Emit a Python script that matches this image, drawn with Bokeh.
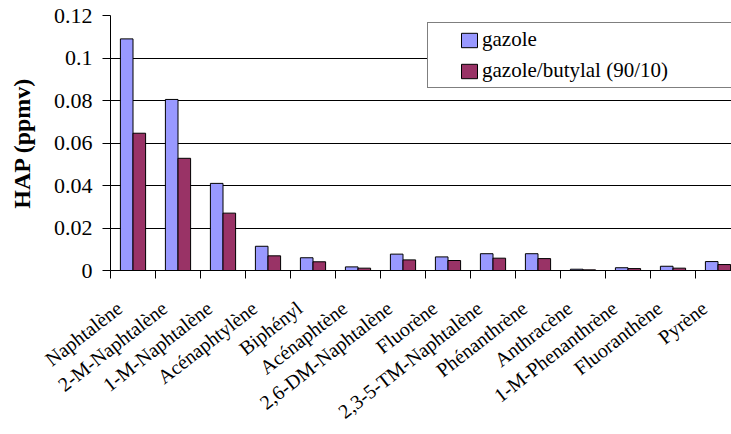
import numpy as np
from bokeh.plotting import figure
from bokeh.models import Range1d, FixedTicker, NumeralTickFormatter, Legend, LegendItem
from bokeh.embed import file_html
from bokeh.resources import INLINE

categories = ["Naphtalène", "2-M-Naphtalène", "1-M-Naphtalène", "Acénaphtylène",
              "Biphényl", "Acénaphtène", "2,6-DM-Naphtalène", "Fluorène",
              "2,3-5-TM-Naphtalène", "Phénanthrène", "Anthracène",
              "1-M-Phenanthrène", "Fluoranthène", "Pyrène"]
gazole = [0.109, 0.0805, 0.041, 0.0114, 0.0060, 0.0017, 0.0077, 0.0064,
          0.0079, 0.0079, 0.0006, 0.0013, 0.0020, 0.0042]
gazole_butylal = [0.0646, 0.0528, 0.027, 0.0069, 0.0041, 0.0011, 0.0050, 0.0047,
                  0.0058, 0.0056, 0.0003, 0.0009, 0.0011, 0.0028]
y_ticks = [0, 0.02, 0.04, 0.06, 0.08, 0.10, 0.12]
series_names = ["gazole", "gazole/butylal (90/10)"]

FONT = "'Liberation Serif', 'Times New Roman', serif"

centers = np.arange(len(categories)) + 0.5
bounds = list(range(len(categories) + 1))
label_pos = [round(c - 0.3, 2) for c in centers]

p = figure(frame_width=621, frame_height=255,
           x_range=Range1d(0, 13.8), y_range=Range1d(0, 0.12),
           output_backend="svg", toolbar_location=None,
           min_border_left=110, min_border_right=0, min_border_top=15,
           min_border_bottom=10)
p.outline_line_color = None
p.background_fill_color = "white"

r1 = p.vbar(x=centers - 0.14, top=gazole, width=0.28,
            fill_color="#9999FF", line_color="black", line_width=1)
r2 = p.vbar(x=centers + 0.14, top=gazole_butylal, width=0.28,
            fill_color="#993366", line_color="black", line_width=1)

# y axis
yt = FixedTicker(ticks=y_ticks)
p.yaxis.ticker = yt
p.yaxis.formatter = NumeralTickFormatter(format="0.[00]")
p.yaxis.major_tick_out = 8
p.yaxis.major_tick_in = 0
p.yaxis.minor_tick_out = 0
p.yaxis.minor_tick_in = 0
p.yaxis.major_label_standoff = 10
p.yaxis.major_label_text_font = FONT
p.yaxis.major_label_text_font_size = "22px"
p.yaxis.major_label_text_color = "black"
p.yaxis.axis_line_color = "black"
p.yaxis.major_tick_line_color = "black"
p.yaxis.axis_label = "HAP (ppmv)"
p.yaxis.axis_label_text_font = FONT
p.yaxis.axis_label_text_font_style = "bold"
p.yaxis.axis_label_text_font_size = "24px"
p.yaxis.axis_label_text_color = "black"
p.yaxis.axis_label_standoff = 16
p.ygrid.ticker = yt
p.ygrid.grid_line_color = "black"
p.ygrid.grid_line_width = 1
p.xgrid.visible = False

# x axis: labels near category centers, tick marks at category boundaries
xt = FixedTicker(ticks=label_pos, minor_ticks=bounds)
p.xaxis.ticker = xt
p.xaxis.major_label_overrides = {float(c): n for c, n in zip(label_pos, categories)}
p.xaxis.major_tick_out = 0
p.xaxis.major_tick_in = 0
p.xaxis.minor_tick_out = 8
p.xaxis.minor_tick_in = 0
p.xaxis.minor_tick_line_color = "black"
p.xaxis.axis_line_color = "black"
p.xaxis.major_label_orientation = np.deg2rad(38)
p.xaxis.major_label_standoff = 27
p.xaxis.major_label_text_font = FONT
p.xaxis.major_label_text_font_size = "20px"
p.xaxis.major_label_text_color = "black"

legend = Legend(items=[LegendItem(label=series_names[0], renderers=[r1]),
                       LegendItem(label=series_names[1], renderers=[r2])],
                location=(317, 182), margin=0, padding=4, spacing=6,
                glyph_width=20, glyph_height=18, label_height=20,
                label_width=245, label_standoff=3,
                title="\u00a0", title_location="left", title_standoff=26,
                title_text_font_size="1px",
                label_text_font=FONT, label_text_font_size="21px",
                label_text_color="black",
                border_line_color="black", border_line_width=1,
                background_fill_color="white", background_fill_alpha=1)
p.add_layout(legend)

open("out.html", "w").write(file_html(p, INLINE))
